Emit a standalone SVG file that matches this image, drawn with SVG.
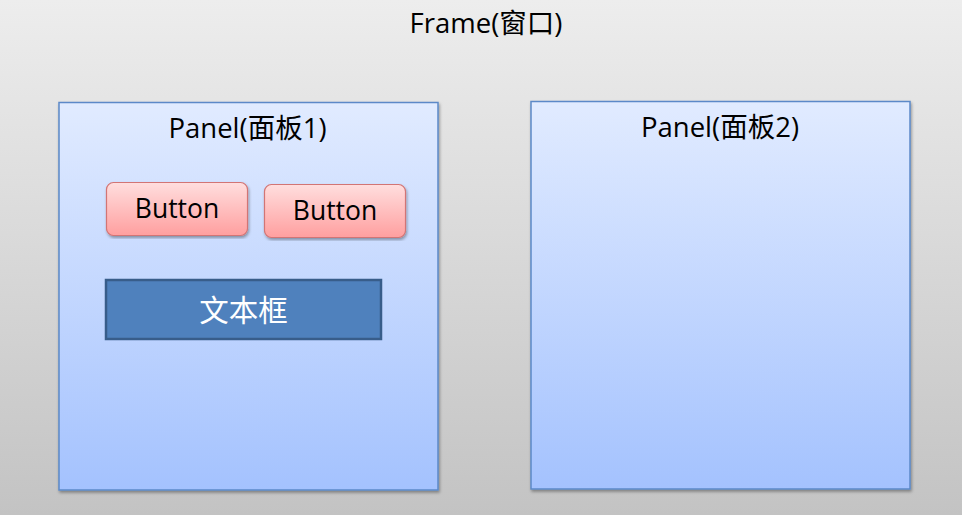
<svg xmlns="http://www.w3.org/2000/svg" width="962" height="515" viewBox="0 0 962 515">
  <defs>
    <linearGradient id="bg" x1="0" y1="0" x2="0" y2="1">
      <stop offset="0" stop-color="#ededed"/>
      <stop offset="1" stop-color="#c3c3c3"/>
    </linearGradient>
    <linearGradient id="panelFill" x1="0" y1="0" x2="0" y2="1">
      <stop offset="0" stop-color="#e1ebff"/>
      <stop offset="1" stop-color="#a4c2fe"/>
    </linearGradient>
    <linearGradient id="btnFill" x1="0" y1="0" x2="0" y2="1">
      <stop offset="0" stop-color="#ffdede"/>
      <stop offset="1" stop-color="#ff9f9f"/>
    </linearGradient>
    <filter id="shadow" x="-5%" y="-5%" width="110%" height="110%">
      <feDropShadow dx="1" dy="2" stdDeviation="1.5" flood-color="#000" flood-opacity="0.35"/>
    </filter>
  </defs>
  <style>
    .label { font-family: "Open Sans", "Noto Sans CJK SC", sans-serif; fill: #000; text-anchor: middle; }
    .panel { fill: url(#panelFill); stroke: #5b89c8; stroke-width: 1.5; filter: url(#shadow); }
    .btn { fill: url(#btnFill); stroke: #d27474; stroke-width: 1.2; filter: url(#shadow); }
  </style>
  <rect x="0" y="0" width="962" height="515" fill="url(#bg)"/>
  <g id="frame">
    <text class="label" x="486" y="33" font-size="27.5">Frame(窗口)</text>
  </g>
  <g id="panel1">
    <rect class="panel" x="59" y="102.5" width="379" height="387.5"/>
    <text class="label" x="247.5" y="138" font-size="27.5">Panel(面板1)</text>
  </g>
  <g id="button1">
    <rect class="btn" x="106.5" y="182.5" width="141" height="53" rx="7"/>
    <text class="label" x="177" y="218" font-size="26.5">Button</text>
  </g>
  <g id="button2">
    <rect class="btn" x="264.5" y="184.5" width="141" height="53" rx="7"/>
    <text class="label" x="335" y="219.5" font-size="26.5">Button</text>
  </g>
  <g id="textbox">
    <rect x="106" y="280" width="275" height="59" fill="#4f81bd" stroke="#385d8a" stroke-width="2.5"/>
    <text class="label" x="243.5" y="321" font-size="29.5" style="fill:#fff">文本框</text>
  </g>
  <g id="panel2">
    <rect class="panel" x="531" y="101.5" width="379" height="387.5"/>
    <text class="label" x="720" y="137" font-size="27.5">Panel(面板2)</text>
  </g>
</svg>
